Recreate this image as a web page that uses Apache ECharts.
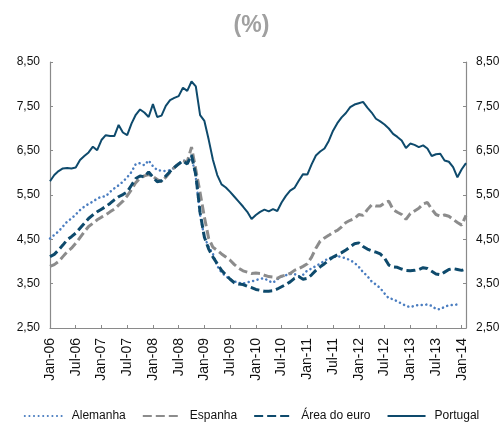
<!DOCTYPE html>
<html>
<head>
<meta charset="utf-8">
<script src="https://cdn.jsdelivr.net/npm/echarts@6/dist/echarts.min.js"></script>
<style>
html,body{margin:0;padding:0;background:#fff;}
#chart{width:503px;height:428px;}
</style>
</head>
<body>
<div id="chart"></div>
<script>
// Categories: monthly, Jan-06 .. Feb-14
var monthNames = ['Jan','Feb','Mar','Apr','May','Jun','Jul','Aug','Sep','Oct','Nov','Dec'];
var startYear = 2006, nMonths = 98;
var categories = [];
for (var k = 0; k < nMonths; k++) {
  var yy = startYear + Math.floor(k / 12);
  categories.push(monthNames[k % 12] + '-' + String(yy).slice(2));
}

var yTicks = [2.5, 3.5, 4.5, 5.5, 6.5, 7.5, 8.5];

var alemanha = [
4.52,4.60,4.68,4.79,4.90,4.97,5.06,5.16,5.24,5.30,
5.35,5.42,5.46,5.47,5.57,5.65,5.72,5.80,5.90,6.02,
6.20,6.22,6.17,6.28,6.15,6.06,6.05,6.04,6.06,6.12,
6.22,6.26,6.30,6.38,5.90,5.05,4.55,4.33,4.17,3.90,
3.75,3.67,3.60,3.55,3.52,3.50,3.53,3.55,3.58,3.61,
3.62,3.56,3.52,3.60,3.66,3.69,3.72,3.72,3.66,3.70,
3.80,3.84,3.90,3.95,4.02,4.07,4.10,4.12,4.10,4.07,
4.03,3.97,3.88,3.76,3.67,3.55,3.48,3.40,3.28,3.17,
3.15,3.10,3.05,3.00,2.97,3.00,3.02,3.02,3.03,3.00,
2.93,2.92,2.98,3.01,3.02,3.03,null,null];

var espanha = [
3.89,3.93,4.00,4.11,4.22,4.30,4.41,4.54,4.67,4.79,
4.86,4.94,5.00,5.05,5.12,5.18,5.27,5.36,5.48,5.62,
5.78,5.88,5.93,5.96,5.92,5.85,5.80,5.90,6.02,6.12,
6.20,6.27,6.25,6.58,6.07,5.55,5.00,4.52,4.32,4.25,
4.17,4.10,4.03,3.93,3.85,3.79,3.76,3.73,3.74,3.73,
3.69,3.66,3.65,3.62,3.67,3.69,3.73,3.80,3.84,3.89,
3.95,4.10,4.30,4.46,4.53,4.59,4.66,4.70,4.78,4.88,
4.93,4.97,5.06,5.04,5.17,5.28,5.25,5.25,5.32,5.36,
5.17,5.11,5.06,4.95,5.08,5.14,5.20,5.30,5.33,5.18,
5.06,5.02,5.05,5.02,4.95,4.88,4.82,5.04];

var areaEuro = [
4.11,4.16,4.26,4.37,4.49,4.56,4.64,4.75,4.86,4.97,
5.05,5.12,5.18,5.24,5.31,5.39,5.46,5.51,5.57,5.72,
5.87,5.93,5.91,6.02,5.90,5.80,5.82,5.93,6.03,6.12,
6.20,6.27,6.20,6.40,5.95,5.10,4.55,4.28,4.10,3.95,
3.80,3.70,3.60,3.52,3.49,3.48,3.44,3.41,3.37,3.35,
3.33,3.33,3.34,3.38,3.43,3.48,3.54,3.62,3.66,3.60,
3.62,3.70,3.80,3.88,3.95,4.03,4.10,4.15,4.20,4.26,
4.33,4.40,4.42,4.34,4.28,4.24,4.21,4.17,4.08,3.92,
3.88,3.87,3.83,3.80,3.79,3.80,3.82,3.86,3.84,3.78,
3.72,3.70,3.76,3.82,3.84,3.82,3.80,3.83];

var portugal = [
5.81,5.95,6.04,6.10,6.11,6.10,6.12,6.29,6.38,6.46,
6.59,6.51,6.74,6.85,6.83,6.83,7.08,6.91,6.85,7.11,
7.31,7.43,7.36,7.26,7.55,7.26,7.29,7.51,7.64,7.69,
7.73,7.92,7.85,8.06,7.95,7.30,7.17,6.75,6.29,5.95,
5.74,5.67,5.57,5.46,5.35,5.24,5.12,4.96,5.05,5.12,
5.17,5.13,5.18,5.14,5.33,5.48,5.60,5.66,5.82,5.97,
5.96,6.19,6.39,6.48,6.55,6.72,6.95,7.12,7.25,7.35,
7.48,7.54,7.57,7.60,7.47,7.36,7.22,7.16,7.09,7.00,
6.88,6.81,6.73,6.56,6.66,6.63,6.58,6.62,6.55,6.38,
6.42,6.43,6.28,6.25,6.13,5.90,6.08,6.22];

var seriesNames = ['Alemanha', 'Espanha', '\u00c1rea do euro', 'Portugal'];

var FONT = '"Liberation Sans", Arial, sans-serif';
var fmt = function (v) { return v.toFixed(2).replace('.', ','); };

var yAxisCommon = {
  type: 'value', min: yTicks[0], max: yTicks[yTicks.length - 1], interval: 1,
  splitLine: { show: false },
  axisLine: { show: true, lineStyle: { color: '#8a8a8a', width: 1.2 } },
  axisTick: { show: true, inside: true, length: 3, lineStyle: { color: '#8a8a8a' } },
  axisLabel: { formatter: fmt, color: '#111', fontSize: 12, fontFamily: FONT, margin: 10 }
};

var chart = echarts.init(document.getElementById('chart'), null, { renderer: 'canvas' });
chart.setOption({
  animation: false,
  backgroundColor: '#fff',
  title: {
    text: '(%)', left: 'center', top: 9,
    textStyle: { color: '#a0a0a0', fontSize: 23, fontWeight: 'bold', fontFamily: FONT }
  },
  grid: { left: 50, right: 37, top: 62, bottom: 100, containLabel: false },
  legend: {
    bottom: 1, left: 'center', itemWidth: 38, itemHeight: 10, itemGap: 16,
    itemStyle: { opacity: 0 },
    textStyle: { color: '#111', fontSize: 12, fontFamily: FONT, padding: [0, 0, 0, 4] },
    data: seriesNames
  },
  xAxis: {
    type: 'category', data: categories, boundaryGap: false,
    axisLine: { lineStyle: { color: '#8a8a8a', width: 1.2 } },
    axisTick: { show: true, inside: true, length: 3, interval: 5, lineStyle: { color: '#8a8a8a' } },
    axisLabel: { interval: 5, rotate: 90, color: '#111', fontSize: 14, fontFamily: FONT, margin: 10 },
    splitLine: { show: false }
  },
  yAxis: [
    Object.assign({ position: 'left' }, yAxisCommon),
    Object.assign({ position: 'right' }, yAxisCommon)
  ],
  series: [
    { name: seriesNames[0], type: 'line', data: alemanha, symbol: 'none', connectNulls: false,
      lineStyle: { color: '#4a7dc0', width: 2.5, type: [0.1, 4.5], cap: 'round' },
      itemStyle: { color: '#4a7dc0' } },
    { name: seriesNames[1], type: 'line', data: espanha, symbol: 'none',
      lineStyle: { color: '#8c8c8c', width: 3, type: [9, 4] },
      itemStyle: { color: '#8c8c8c' } },
    { name: seriesNames[2], type: 'line', data: areaEuro, symbol: 'none',
      lineStyle: { color: '#0e4a6c', width: 3, type: [9, 4] },
      itemStyle: { color: '#0e4a6c' } },
    { name: seriesNames[3], type: 'line', data: portugal, symbol: 'none',
      lineStyle: { color: '#0e4a6c', width: 2 },
      itemStyle: { color: '#0e4a6c' } }
  ]
});
</script>
</body>
</html>
